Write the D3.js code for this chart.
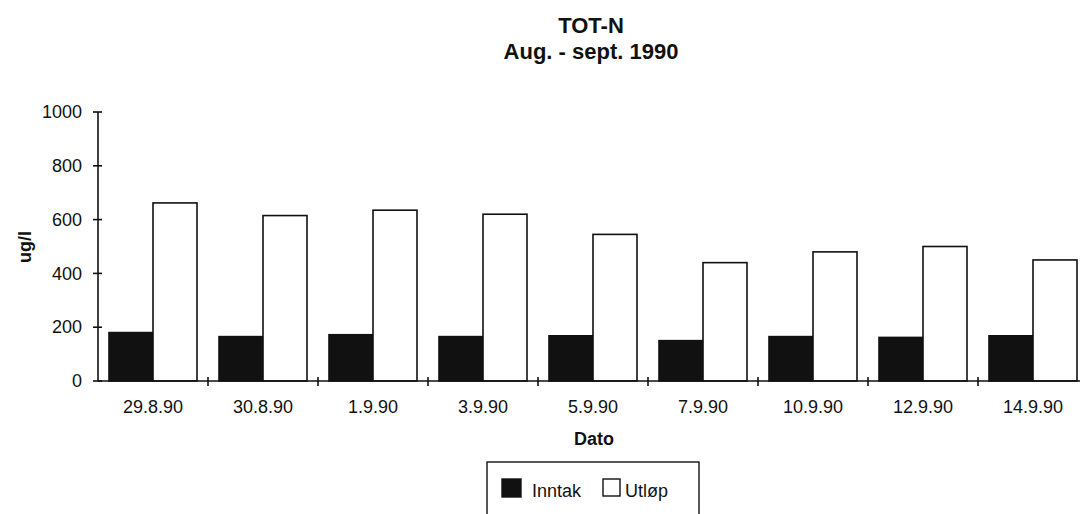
<!DOCTYPE html>
<html>
<head>
<meta charset="utf-8">
<script src="https://cdn.jsdelivr.net/npm/d3@7/dist/d3.min.js"></script>
<style>
  html, body { margin: 0; padding: 0; background: #fff; }
  svg { display: block; font-family: "Liberation Sans", Arial, Helvetica, sans-serif; }
</style>
</head>
<body>
<svg id="chart" width="1080" height="514"></svg>
<script>
// Sampling dates and total nitrogen (ug/l) at intake and outlet
const dates = ["29.8.90", "30.8.90", "1.9.90", "3.9.90", "5.9.90", "7.9.90", "10.9.90", "12.9.90", "14.9.90"];
const inntak = [180, 165, 172, 165, 168, 150, 165, 162, 168];
const utlop = [662, 615, 635, 620, 545, 440, 480, 500, 450];
const seriesNames = ["Inntak", "Utløp"];
const yTicks = [0, 200, 400, 600, 800, 1000];

const ink = "#111";
const svg = d3.select("#chart");

const x0 = 98, x1 = 1088, yBase = 381, yTop = 112;

const x = d3.scaleBand().domain(dates).range([x0, x1]).paddingInner(0.2).paddingOuter(0.1);
const xInner = d3.scaleBand().domain(seriesNames).range([0, x.bandwidth()]);
const y = d3.scaleLinear().domain([0, 1000]).range([yBase, yTop]);

// Titles
svg.append("text").attr("x", 591).attr("y", 33).attr("text-anchor", "middle")
  .attr("font-size", 22).attr("font-weight", "bold").attr("fill", ink).text("TOT-N");
svg.append("text").attr("x", 591).attr("y", 59).attr("text-anchor", "middle")
  .attr("font-size", 22).attr("font-weight", "bold").attr("fill", ink).text("Aug. - sept. 1990");

// Bars
const rows = dates.map((d, i) => ({ date: d, values: [inntak[i], utlop[i]] }));
const groups = svg.append("g").selectAll("g").data(rows).join("g")
  .attr("transform", d => `translate(${x(d.date)},0)`);
groups.selectAll("rect")
  .data(d => d.values.map((v, j) => ({ key: seriesNames[j], v })))
  .join("rect")
  .attr("x", d => xInner(d.key))
  .attr("y", d => y(d.v))
  .attr("width", xInner.bandwidth())
  .attr("height", d => yBase - y(d.v))
  .attr("fill", d => d.key === "Inntak" ? ink : "#fff")
  .attr("stroke", ink)
  .attr("stroke-width", 1.6);

// Y axis with ticks crossing the line
const yAxis = svg.append("g").attr("transform", `translate(${x0},0)`)
  .call(d3.axisLeft(y).tickValues(yTicks).tickFormat(d3.format("d")).tickSize(0).tickPadding(16));
yAxis.select(".domain").remove();
yAxis.selectAll("text").attr("font-size", 18).attr("fill", ink).attr("font-family", "Liberation Sans, Arial, sans-serif");
svg.append("line").attr("x1", x0).attr("x2", x0).attr("y1", y(1000)).attr("y2", yBase)
  .attr("stroke", ink).attr("stroke-width", 1.6);
svg.append("g").selectAll("line").data(yTicks).join("line")
  .attr("x1", x0 - 5).attr("x2", x0 + 4).attr("y1", d => y(d)).attr("y2", d => y(d))
  .attr("stroke", ink).attr("stroke-width", 1.6);

// X axis
const xAxis = svg.append("g").attr("transform", `translate(0,${yBase})`)
  .call(d3.axisBottom(x).tickSize(0).tickPadding(19));
xAxis.select(".domain").remove();
xAxis.selectAll("text").attr("font-size", 18).attr("fill", ink).attr("font-family", "Liberation Sans, Arial, sans-serif");
svg.append("line").attr("x1", x0).attr("x2", x1).attr("y1", yBase).attr("y2", yBase)
  .attr("stroke", ink).attr("stroke-width", 1.6);
const boundaries = dates.map(d => x(d) - x.step() * x.paddingInner() / 2).slice(1).concat([x1]);
svg.append("g").selectAll("line").data(boundaries).join("line")
  .attr("x1", d => d).attr("x2", d => d).attr("y1", yBase - 4).attr("y2", yBase + 5)
  .attr("stroke", ink).attr("stroke-width", 1.6);

// Axis titles
svg.append("text").attr("x", 594).attr("y", 445).attr("text-anchor", "middle")
  .attr("font-size", 18).attr("font-weight", "bold").attr("fill", ink).text("Dato");
svg.append("text").attr("transform", "translate(31,247) rotate(-90)").attr("text-anchor", "middle")
  .attr("font-size", 18).attr("font-weight", "bold").attr("fill", ink).text("ug/l");

// Legend
const lg = svg.append("g");
lg.append("rect").attr("x", 487).attr("y", 462).attr("width", 212).attr("height", 70)
  .attr("fill", "#fff").attr("stroke", ink).attr("stroke-width", 1.4);
const legendItems = [
  { name: seriesNames[0], fill: ink, sx: 502, tx: 532 },
  { name: seriesNames[1], fill: "#fff", sx: 603, tx: 625 }
];
legendItems.forEach(it => {
  lg.append("rect").attr("x", it.sx).attr("y", 479).attr("width", it.fill === ink ? 19 : 17).attr("height", it.fill === ink ? 18 : 17)
    .attr("fill", it.fill).attr("stroke", ink).attr("stroke-width", 1.4);
  lg.append("text").attr("x", it.tx).attr("y", 497).attr("font-size", 18).attr("fill", ink).text(it.name);
});
</script>
</body>
</html>
